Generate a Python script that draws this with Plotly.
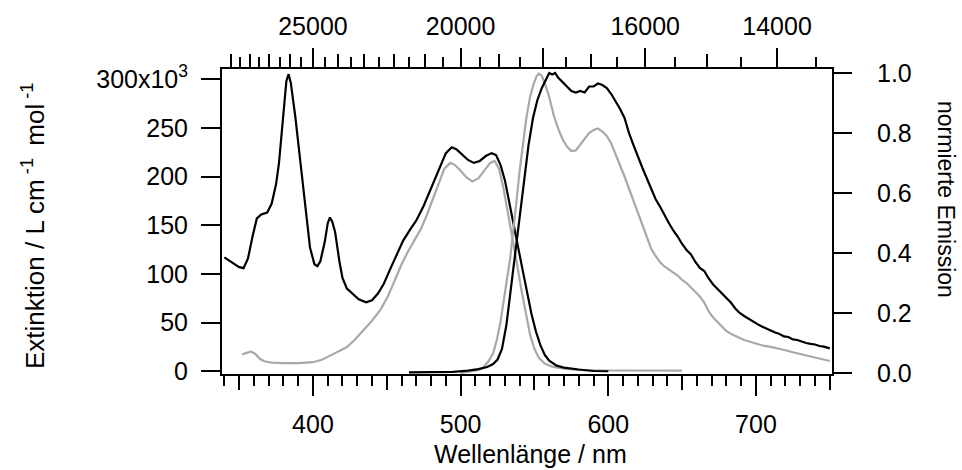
import plotly.graph_objects as go

# ---------------- data ----------------
abs_black_nm = [340, 345, 350, 353, 356, 359, 362, 365, 369, 372, 375, 377, 380, 382, 383.5, 385, 388, 390, 393, 395,
                398, 401, 403, 405, 408, 410, 411.5, 413, 415, 418, 420, 423, 427, 431, 436, 440, 444, 448, 452, 456,
                461, 466, 470, 475, 480, 485, 490, 494, 497, 500, 505, 509, 513, 517, 521, 524, 527, 530, 533, 536,
                539, 542, 545, 548, 551, 554, 557, 560, 565, 570, 580, 590, 600]
abs_black = [117, 112, 107, 106, 116, 138, 157, 161, 163, 172, 192, 214, 268, 298, 305, 296, 262, 234, 193, 167,
             127, 110, 108, 113, 133, 152, 158, 154, 143, 112, 96, 85, 79, 74, 71, 73, 80, 90, 104, 118,
             134, 146, 155, 170, 188, 207, 224, 230, 228, 224, 217, 214, 216, 221, 224, 222, 212, 196, 174, 150,
             127, 104, 82, 59, 41, 27, 17, 11, 6, 4, 2, 0.5, 0.2]

abs_gray_nm = [352, 356, 358, 361, 364, 367, 372, 380, 390, 400, 406, 412, 418, 423, 428, 434, 440, 446, 451, 455,
               460, 464, 468, 473, 477, 481, 485, 489, 493, 496, 500, 504, 508, 512, 516, 520, 523, 526, 529, 532,
               535, 538, 541, 544, 547, 550, 553, 557, 562, 570, 580, 600, 620, 650]
abs_gray = [17.5, 20, 20.5, 18, 13, 10.5, 9, 8.5, 8.5, 9.5, 12, 16.5, 21, 25, 32, 42, 52, 64, 78, 92,
            110, 122, 133, 146, 160, 176, 193, 208, 214, 212, 206, 199, 195, 198, 206, 214, 216, 208, 188, 164,
            137, 112, 85, 60, 38, 23, 14, 8, 5, 3, 1.5, 1, 0.8, 0.8]

em_black_nm = [465, 480, 495, 505, 512, 518, 522, 525, 528, 531, 534, 537, 540, 543, 546, 549, 552, 555, 558, 560,
               562, 564, 566, 569, 572, 575, 578, 581, 584, 587, 590, 593, 596, 599, 602, 605, 608, 611, 614, 617,
               620, 623, 626, 629, 632, 635, 638, 641, 644, 647, 650, 653, 656, 659, 662, 665, 668, 671, 674, 677,
               680, 683, 686, 689, 692, 695, 698, 701, 704, 707, 710, 713, 716, 719, 722, 725, 728, 731, 734, 737,
               740, 743, 746, 750]
em_black = [0.002, 0.002, 0.004, 0.008, 0.013, 0.02, 0.03, 0.045, 0.08, 0.16, 0.28, 0.41, 0.53, 0.65, 0.76, 0.85, 0.91, 0.95, 0.98, 1.0,
            0.995, 1.0, 0.985, 0.97, 0.955, 0.94, 0.935, 0.94, 0.935, 0.955, 0.955, 0.965, 0.96, 0.95, 0.93, 0.905, 0.88, 0.85, 0.80, 0.76,
            0.72, 0.685, 0.65, 0.615, 0.58, 0.555, 0.525, 0.50, 0.475, 0.455, 0.43, 0.41, 0.395, 0.37, 0.35, 0.34, 0.315, 0.295, 0.28, 0.265,
            0.25, 0.235, 0.215, 0.2, 0.19, 0.18, 0.17, 0.163, 0.155, 0.148, 0.14, 0.135, 0.13, 0.122, 0.12, 0.112, 0.11, 0.104, 0.1, 0.097,
            0.095, 0.09, 0.088, 0.082]

em_gray_nm = [500, 505, 510, 515, 519, 522, 524.5, 527, 529, 531, 533.5, 536, 538, 540, 542, 544.5, 547, 549.5, 551.5, 553,
              555, 557, 560, 563, 566, 569, 572, 575, 578, 581, 584, 587, 590, 593, 596, 599, 602, 605, 608, 611,
              614, 617, 620, 623, 626, 629, 632, 635, 638, 641, 644, 647, 650, 653, 656, 659, 662, 665, 668, 671,
              674, 677, 680, 684, 688, 692, 696, 700, 705, 710, 715, 720, 725, 730, 735, 740, 745, 750]
em_gray = [0.0, 0.003, 0.008, 0.016, 0.04, 0.066, 0.11, 0.17, 0.23, 0.30, 0.38, 0.48, 0.58, 0.675, 0.76, 0.85, 0.92, 0.965, 0.99, 0.998,
           0.99, 0.965, 0.92, 0.86, 0.815, 0.78, 0.755, 0.74, 0.742, 0.76, 0.78, 0.80, 0.81, 0.815, 0.805, 0.79, 0.765, 0.73, 0.69, 0.655,
           0.615, 0.575, 0.54, 0.495, 0.455, 0.415, 0.39, 0.37, 0.355, 0.345, 0.335, 0.325, 0.31, 0.3, 0.285, 0.27, 0.255, 0.235, 0.205, 0.185,
           0.17, 0.155, 0.14, 0.128, 0.118, 0.11, 0.104, 0.098, 0.091, 0.087, 0.082, 0.076, 0.069, 0.063, 0.056, 0.05, 0.045, 0.04]

# axis ticks
x_major = [400, 500, 600, 700]
x_medium = [350, 450, 550, 650, 750]
x_minor = [v for v in range(340, 751, 10) if v % 50 != 0]

left_ticks = [0, 50, 100, 150, 200, 250, 300]
left_labels = ["0", "50", "100", "150", "200", "250", "300x10<sup>3</sup>"]
right_ticks = [0.0, 0.2, 0.4, 0.6, 0.8, 1.0]
right_labels = ["0.0", "0.2", "0.4", "0.6", "0.8", "1.0"]

wn_major = [25000, 20000, 18000, 16000, 14000]
wn_major_labels = ["25000", "20000", "", "16000", "14000"]
wn_medium = [w for w in range(14000, 29001, 1000) if w not in wn_major]
wn_minor = [w for w in range(13500, 29001, 1000)]

# ---------------- layout geometry ----------------
W, H = 962, 470
L, R, T, B = 222, 130, 69, 96
XR = [338.4, 751.5]
YL = [-2.6, 310.3]
YR = [-0.0033, 1.0133]
FONT = "Liberation Sans, Arial, sans-serif"
GRAY = "#a9a9a9"

def px_x(px):
    return (px - L) / (W - L - R)

def px_y(py):
    return (H - B - py) / (H - T - B)

fig = go.Figure()
fig.add_trace(go.Scatter(x=abs_gray_nm, y=abs_gray, mode="lines", line=dict(color=GRAY, width=2.2),
                         xaxis="x", yaxis="y", showlegend=False))
fig.add_trace(go.Scatter(x=em_gray_nm, y=em_gray, mode="lines", line=dict(color=GRAY, width=2.2),
                         xaxis="x", yaxis="y2", showlegend=False))
fig.add_trace(go.Scatter(x=abs_black_nm, y=abs_black, mode="lines", line=dict(color="black", width=2.2),
                         xaxis="x", yaxis="y", showlegend=False))
fig.add_trace(go.Scatter(x=em_black_nm, y=em_black, mode="lines", line=dict(color="black", width=2.2),
                         xaxis="x", yaxis="y2", showlegend=False))
# carrier traces for extra tick axes
for xa in ["x2", "x3", "x4"]:
    fig.add_trace(go.Scatter(x=[None], y=[None], xaxis=xa, yaxis="y", showlegend=False, hoverinfo="skip"))

tickfont = dict(family=FONT, size=25, color="black")
common = dict(showgrid=False, zeroline=False, linecolor="black", linewidth=2, tickcolor="black", tickwidth=2)

fig.update_layout(
    width=W, height=H,
    margin=dict(l=L, r=R, t=T, b=B),
    paper_bgcolor="white", plot_bgcolor="white",
    font=dict(family=FONT, color="black"),
    xaxis=dict(range=XR, showline=True, ticks="outside", ticklen=20, tickvals=x_major,
               tickfont=tickfont, ticklabelstandoff=7,
               minor=dict(tickvals=x_minor, ticks="outside", ticklen=10, tickwidth=2, tickcolor="black"),
               **common),
    xaxis3=dict(range=XR, overlaying="x", anchor="y", side="bottom", showline=False, ticks="outside",
                ticklen=15, tickvals=x_medium, showticklabels=False, **common),
    xaxis2=dict(range=XR, overlaying="x", anchor="y", side="top", showline=True, ticks="outside",
                ticklen=19, tickvals=[1e7 / w for w in wn_major], ticktext=wn_major_labels,
                tickfont=tickfont, ticklabelstandoff=3,
                minor=dict(tickvals=[1e7 / w for w in wn_minor], ticks="outside", ticklen=10, tickwidth=2,
                           tickcolor="black"),
                **common),
    xaxis4=dict(range=XR, overlaying="x", anchor="y", side="top", showline=False, ticks="outside",
                ticklen=14, tickvals=[1e7 / w for w in wn_medium], showticklabels=False, **common),
    yaxis=dict(range=YL, showline=True, ticks="outside", ticklen=19, tickvals=left_ticks, ticktext=left_labels,
               tickfont=tickfont, ticklabelstandoff=8, **common),
    yaxis2=dict(range=YR, overlaying="y", anchor="x", side="right", showline=True, ticks="outside", ticklen=18,
                tickvals=right_ticks, ticktext=right_labels, tickfont=tickfont, ticklabelstandoff=20, **common),
    annotations=[
        dict(text="Wellenlänge / nm", xref="paper", yref="paper", x=px_x(530), y=px_y(454),
             xanchor="center", yanchor="middle", showarrow=False, font=dict(family=FONT, size=25)),
        dict(text="Extinktion / L cm<sup> -1 </sup> mol<sup> -1</sup>", xref="paper", yref="paper",
             x=px_x(33), y=px_y(226), xanchor="center", yanchor="middle", textangle=-90, showarrow=False,
             font=dict(family=FONT, size=26)),
        dict(text="normierte Emission", xref="paper", yref="paper", x=px_x(946), y=px_y(200),
             xanchor="center", yanchor="middle", textangle=90, showarrow=False,
             font=dict(family=FONT, size=23)),
    ],
)

fig.write_html("out.html")
